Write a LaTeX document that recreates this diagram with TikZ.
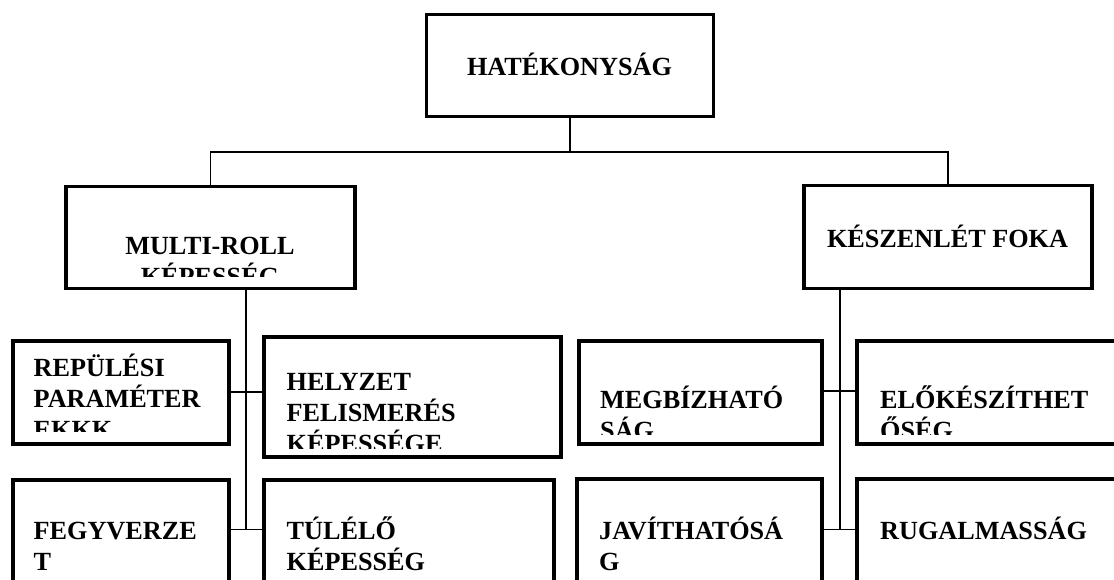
\documentclass[tikz,border=0pt]{standalone}
\usepackage{fontspec}
\setmainfont{Liberation Serif}
\begin{document}
\begin{tikzpicture}[x=1pt,y=-1pt,
  box/.style={draw, line width=3.2pt, inner sep=0pt},
  conn/.style={line width=1.6pt},
  lbl/.style={font=\fontsize{26.2pt}{31pt}\selectfont\bfseries, inner sep=0pt, align=left, anchor=base west}]
\useasboundingbox (0,0) rectangle (1114,579);
\fill[white] (0,0) rectangle (1114,579);
\clip (0,0) rectangle (1114,579);

% boxes
\node[box, minimum width=287pt, minimum height=102pt] (hat) at (570,65.5) {};
\node[box, minimum width=289pt, minimum height=102pt] (multi) at (210.5,237.5) {};
\node[box, minimum width=288pt, minimum height=103pt] (kesz) at (948,237) {};
\node[box, minimum width=216pt, minimum height=103pt] (rep) at (121,392.5) {};
\node[box, minimum width=297pt, minimum height=120pt] (hely) at (412.5,397) {};
\node[box, minimum width=216pt, minimum height=140pt] (fegy) at (121,550) {};
\node[box, minimum width=290pt, minimum height=140pt] (tul) at (409,550) {};
\node[box, minimum width=243pt, minimum height=103pt] (megb) at (700.5,392.5) {};
\node[box, minimum width=273pt, minimum height=103pt] (elo) at (993.5,392.5) {};
\node[box, minimum width=245pt, minimum height=141pt] (jav) at (699.5,549.5) {};
\node[box, minimum width=273pt, minimum height=141pt] (rug) at (993.5,549.5) {};

% connectors
\coordinate (bus) at (570,151.7);
\draw[conn] (hat.south) -- (bus);
\draw[conn] (multi.north) |- (bus) -| (kesz.north);
\coordinate (lt) at (245.7,529.3);
\coordinate (rt) at (839.7,529.3);
\draw[conn] (multi.south -| lt) -- (lt);
\draw[conn] (kesz.south -| rt) -- (rt);
\draw[conn] (rep.east |- 0,392) -- (hely.west |- 0,392);
\draw[conn] (fegy.east |- lt) -- (tul.west |- lt);
\draw[conn] (megb.east |- 0,390.7) -- (elo.west |- 0,390.7);
\draw[conn] (jav.east |- rt) -- (rug.west |- rt);

% texts
\node[lbl, anchor=base] (thatt) at (569.5,75) {HATÉKONYSÁG};
\begin{scope}
\clip (multi.north west) rectangle ([yshift=13.5pt]multi.south east);
\node[lbl, align=center, anchor=base] (tmulti) at (210,285) {MULTI-ROLL\\KÉPESSÉG};
\end{scope}
\node[lbl, anchor=base] (tkesz) at (947.5,247.3) {KÉSZENLÉT FOKA};
\begin{scope}
\clip (rep.north west) rectangle ([yshift=14pt]rep.south east);
\node[lbl] (trep) at (33.5,438.7) {REPÜLÉSI\\PARAMÉTER\\EKKK};
\end{scope}
\begin{scope}
\clip (hely.north west) rectangle ([yshift=10pt]hely.south east);
\node[lbl] (thely) at (286.5,452) {HELYZET\\FELISMERÉS\\KÉPESSÉGE};
\end{scope}
\begin{scope}
\clip (megb.north west) rectangle ([yshift=11.3pt]megb.south east);
\node[lbl] (tmegb) at (600,439.3) {MEGBÍZHATÓ\\SÁG};
\end{scope}
\begin{scope}
\clip (elo.north west) rectangle ([yshift=11.3pt]elo.south east);
\node[lbl] (telo) at (880,439.3) {ELŐKÉSZÍTHET\\ŐSÉG};
\end{scope}
\node[lbl] (tfegy) at (33.5,570.3) {FEGYVERZE\\T};
\node[lbl] (ttul) at (286.5,570.3) {TÚLÉLŐ\\KÉPESSÉG};
\node[lbl] (tjav) at (599,570.3) {JAVÍTHATÓSÁ\\G};
\node[lbl] (trug) at (880,539.3) {RUGALMASSÁG};
\end{tikzpicture}
\end{document}
